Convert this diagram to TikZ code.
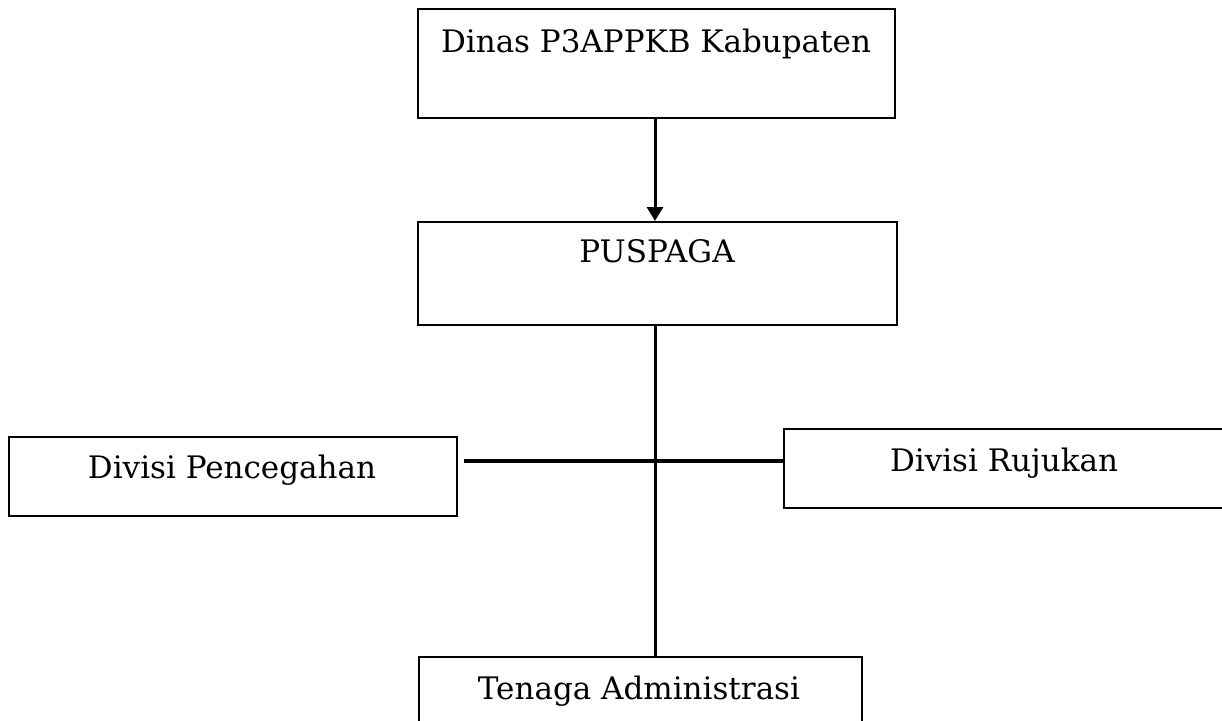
\documentclass[tikz,border=0pt]{standalone}
\usepackage{fontspec}
\setmainfont{DejaVu Serif}
\usetikzlibrary{arrows.meta,calc}
\begin{document}
\begin{tikzpicture}[x=1pt,y=-1pt,
  box/.style={draw=black,line width=1.5pt,rectangle,inner sep=0pt,anchor=north west},
  lbl/.style={anchor=base,inner sep=0pt,font=\fontsize{31}{36}\selectfont},
  conn/.style={draw=black,line width=3pt}]
\useasboundingbox (0,0) rectangle (1222,720);
% boxes
\node[box,minimum width=477pt,minimum height=109pt] (dinas) at (417,8) {};
\node[box,minimum width=479pt,minimum height=103pt] (puspaga) at (417,221) {};
\node[box,minimum width=448pt,minimum height=79pt] (pencegahan) at (8,436) {};
\node[box,minimum width=460pt,minimum height=79pt] (rujukan) at (783,428) {};
\node[box,minimum width=443pt,minimum height=75pt] (tenaga) at (418,656) {};
% labels
\node[lbl] (dinasT) at (656,52) {Dinas P3APPKB Kabupaten};
\node[lbl] (puspagaT) at (657,262) {PUSPAGA};
\node[lbl] (pencegahanT) at (232,478) {Divisi Pencegahan};
\node[lbl] (rujukanT) at (1004,471) {Divisi Rujukan};
\node[lbl] (tenagaT) at (639,699) {Tenaga Administrasi};
% connectors
\coordinate (top) at (655,117);
\coordinate (hub) at (655,461);
\draw[conn,-{Triangle[width=16pt,length=14pt]}] (top) -- (top |- puspaga.north);
\draw[conn] (hub |- puspaga.south) -- (hub |- tenaga.north);
\draw[draw=black,line width=4pt] ($(pencegahan.east |- hub)+(6,0)$) -- (rujukan.west |- hub);
\end{tikzpicture}
\end{document}
